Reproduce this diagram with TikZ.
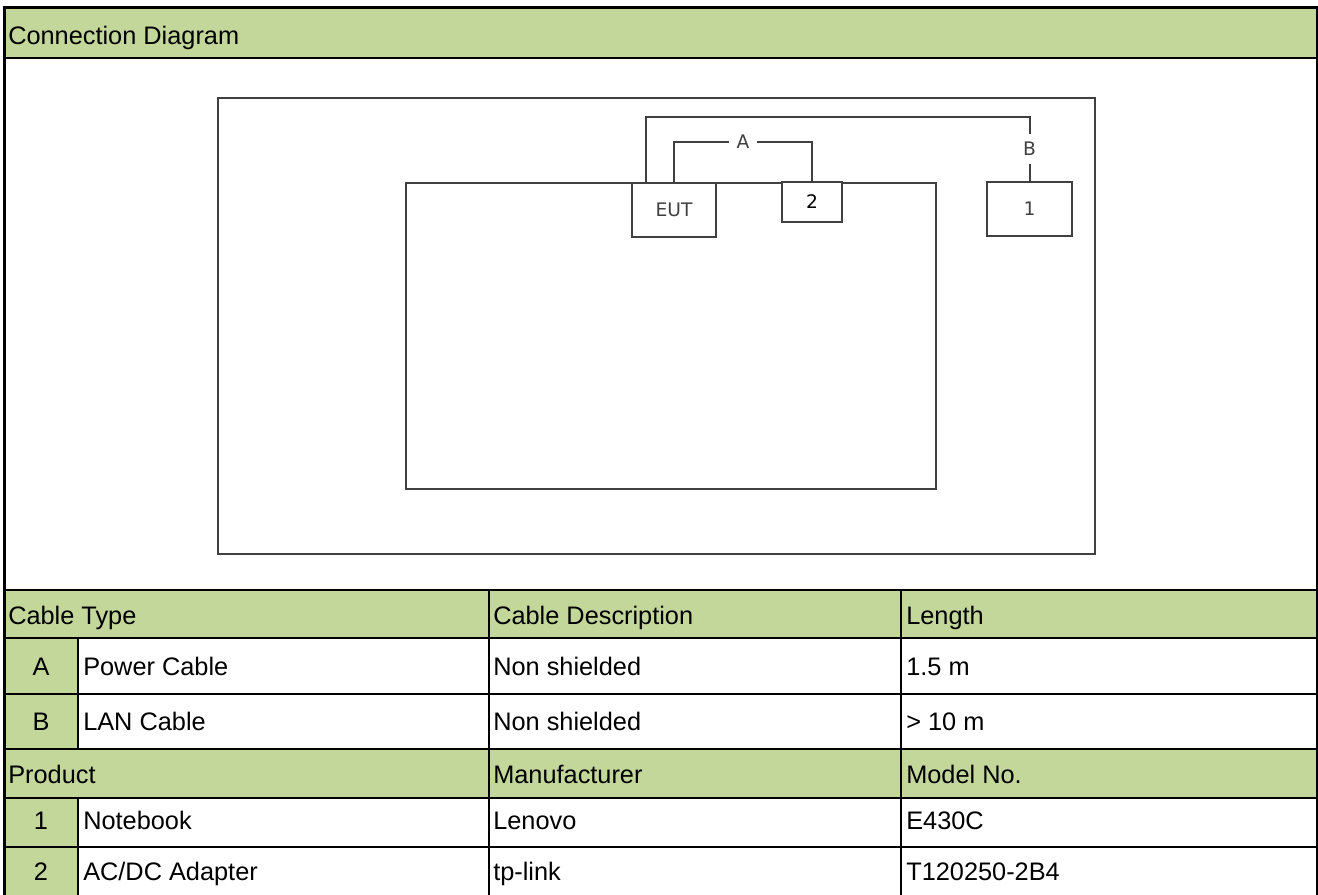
\documentclass[tikz,border=0pt]{standalone}
\usepackage{fontspec}
\setmainfont{Liberation Sans}
\newfontfamily\diagfont{DejaVu Sans}
\usetikzlibrary{calc}
\definecolor{hdr}{RGB}{196,215,155}
\definecolor{dline}{RGB}{64,64,64}
\definecolor{dtext}{RGB}{64,64,64}
\begin{document}
\begin{tikzpicture}[x=0.75pt,y=-0.75pt,
  tline/.style={line width=1.5pt, black},
  cell/.style={anchor=base west, inner sep=0pt, font=\fontsize{19}{22}\selectfont},
  ccell/.style={anchor=base, inner sep=0pt, font=\fontsize{19}{22}\selectfont},
  frame/.style={draw=dline, line width=1.5pt},
  dev/.style={draw=dline, line width=1.5pt, fill=white, inner sep=0pt, text=dtext,
    font=\diagfont\fontsize{14}{16}\selectfont},
  wire/.style={draw=dline, line width=1.5pt},
  lbl/.style={fill=white, inner xsep=6pt, inner ysep=1pt, text=dtext,
    font=\diagfont\fontsize{14}{16}\selectfont}]
\useasboundingbox (0,0) rectangle (1318,895);
\fill[white] (0,0) rectangle (1318,895);
% green fills
\fill[hdr] (4,8) rectangle (1317,58);
\fill[hdr] (4,590) rectangle (1317,638);
\fill[hdr] (4,638) rectangle (78,749);
\fill[hdr] (4,749) rectangle (1317,798);
\fill[hdr] (4,798) rectangle (78,895);
% table lines
\foreach \yy in {58,590,638,694,749,798,847} \draw[tline] (4,\yy) -- (1317,\yy);
\draw[tline] (489,590) -- (489,895);
\draw[tline] (901,590) -- (901,895);
\draw[tline] (78,638) -- (78,749);
\draw[tline] (78,798) -- (78,895);
\draw[line width=2.25pt] (2.5,7.5) -- (1318,7.5);
\draw[line width=2.25pt] (4,6) -- (4,895);
\draw[line width=1.5pt] (1317,6) -- (1317,895);
% diagram
\draw[frame] (218,98) rectangle (1095,554);
\draw[frame] (406,183) rectangle (936,489);
\node[dev, minimum width=63pt, minimum height=40.5pt] (eut) at (674,210) {EUT};
\node[dev, minimum width=45pt, minimum height=30pt, text=black] (two) at (812,202) {2};
\node[dev, minimum width=63.75pt, minimum height=40.5pt] (one) at (1029.5,209) {1};
\draw[wire] (eut.north) -- ++(0,-40) -| (two.north) node[lbl, pos=0.25] (la) {A};
\coordinate (bs) at ($(eut.north)+(-28,0)$);
\draw[wire] (bs) -- ++(0,-65) -| (one.north) node[lbl, pos=0.75, inner xsep=1pt, inner ysep=6pt] (lb) {B};
% title
\node[cell] (t0) at (8,45) {Connection Diagram};
% cable table
\node[cell] (h1) at (8,624) {Cable Type};
\node[cell] (h2) at (493,624) {Cable Description};
\node[cell] (h3) at (906,624) {Length};
\node[ccell] (a0) at (41,675) {A};
\node[cell] (a1) at (83,675) {Power Cable};
\node[cell] (a2) at (493,675) {Non shielded};
\node[cell] (a3) at (906,675) {1.5 m};
\node[ccell] (b0) at (41,730) {B};
\node[cell] (b1) at (83,730) {LAN Cable};
\node[cell] (b2) at (493,730) {Non shielded};
\node[cell] (b3) at (906,730) {> 10 m};
% product table
\node[cell] (p1) at (8,783) {Product};
\node[cell] (p2) at (493,783) {Manufacturer};
\node[cell] (p3) at (906,783) {Model No.};
\node[ccell] (c0) at (41,829) {1};
\node[cell] (c1) at (83,829) {Notebook};
\node[cell] (c2) at (493,829) {Lenovo};
\node[cell] (c3) at (906,829) {E430C};
\node[ccell] (d0) at (41,880) {2};
\node[cell] (d1) at (83,880) {AC/DC Adapter};
\node[cell] (d2) at (493,880) {tp-link};
\node[cell] (d3) at (906,880) {T120250-2B4};
\end{tikzpicture}
\end{document}
